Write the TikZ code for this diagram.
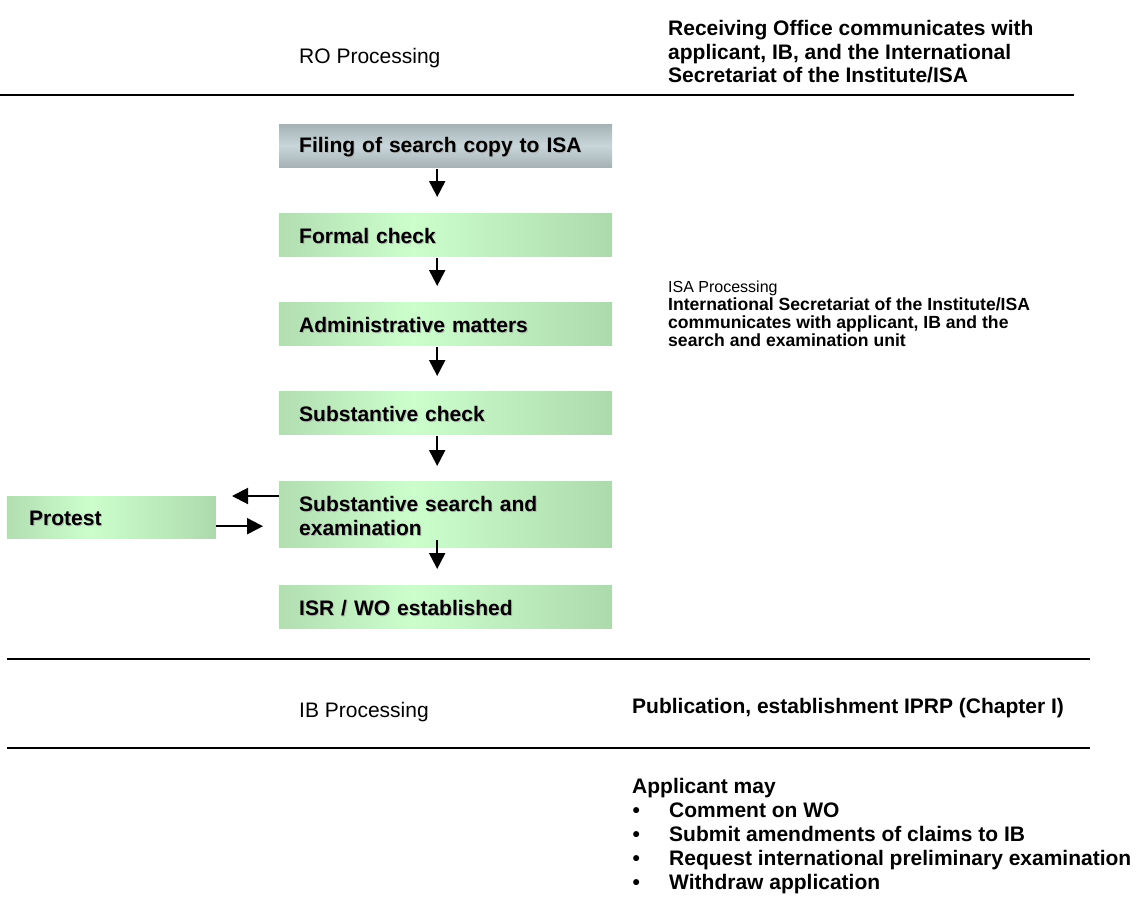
\documentclass[tikz,border=0pt]{standalone}
\usepackage{fontspec}
\setmainfont{Liberation Sans}
\usetikzlibrary{arrows.meta,calc}

\definecolor{greenEdgeL}{HTML}{B2DEB2}
\definecolor{greenPeak}{HTML}{CCFECC}
\definecolor{greenEdgeR}{HTML}{ADDAAD}
\definecolor{grayEdge}{HTML}{A6B2B5}
\definecolor{grayMid}{HTML}{C8D6DB}

% light band a little left of the middle, darker green at both ends
\pgfdeclarehorizontalshading{greenbar}{100bp}{%
  color(0bp)=(greenEdgeL); color(25bp)=(greenEdgeL);
  color(45bp)=(greenPeak); color(75bp)=(greenEdgeR); color(100bp)=(greenEdgeR)}

% bold text with a faint offset shadow, set slightly low in its box
\newcommand\shtext[1]{\raisebox{-2pt}[\height][\depth]{\makebox[0pt][l]{\raisebox{-0.9pt}{\hspace{0.9pt}\textcolor{black!30}{#1}}}#1}}

\tikzset{
  bigtext/.style={font=\fontsize{21}{23.5}\selectfont, inner sep=0pt, align=left},
  stepbox/.style={rectangle, anchor=north west, draw=none, shading=greenbar,
    minimum width=333pt, minimum height=43pt, text width=293pt, inner xsep=20pt,
    inner ysep=0pt, align=left, font=\fontsize{21}{24}\selectfont\bfseries},
  graybox/.style={stepbox, shading=axis, top color=grayEdge, bottom color=grayEdge,
    middle color=grayMid},
  flow/.style={line width=2pt, -{Triangle[width=16pt,length=16pt]}},
  rule/.style={line width=2pt}
}

\begin{document}
\begin{tikzpicture}[x=1pt,y=-1pt]
\useasboundingbox (0,0) rectangle (1141,900);

% ---- RO section header
\node[bigtext, anchor=west] (ro) at (299,58) {RO Processing};
\node[bigtext, anchor=west, font=\fontsize{21}{23.5}\selectfont\bfseries] (rotxt) at (668,52)
  {Receiving Office communicates with\\applicant, IB, and the International\\Secretariat of the Institute/ISA};
\coordinate (r1a) at (0,95);
\coordinate (r1b) at (1074,95);
\draw[rule] (r1a) -- (r1b);

% ---- ISA processing steps
\node[graybox] (fil) at (279,124) {\shtext{Filing of search copy to ISA}};
\node[stepbox] (frm) at (279,213) {\shtext{Formal check}};
\node[stepbox] (adm) at (279,302) {\shtext{Administrative matters}};
\node[stepbox] (chk) at (279,391) {\shtext{Substantive check}};
\node[stepbox, minimum height=66pt] (srch) at (279,481)
  {\shtext{Substantive search and}\\\shtext{examination}};
\node[stepbox] (isr) at (279,585) {\shtext{ISR / WO established}};
\node[stepbox, minimum width=209pt, text width=165pt, inner xsep=22pt,
      minimum height=42pt] (pro) at (7,496) {\shtext{Protest}};

\draw[flow] ([xshift=-8.5pt,yshift=-2pt]fil.south) -- ([xshift=-8.5pt,yshift=16pt]frm.north);
\draw[flow] ([xshift=-8.5pt,yshift=-2pt]frm.south) -- ([xshift=-8.5pt,yshift=16pt]adm.north);
\draw[flow] ([xshift=-8.5pt,yshift=-2pt]adm.south) -- ([xshift=-8.5pt,yshift=15pt]chk.north);
\draw[flow] ([xshift=-8.5pt,yshift=-2pt]chk.south) -- ([xshift=-8.5pt,yshift=15pt]srch.north);
\draw[flow] ([xshift=-8.5pt,yshift=7pt]srch.south) -- ([xshift=-8.5pt,yshift=16pt]isr.north);

\draw[flow] ([yshift=-15pt]srch.north west) -- ([xshift=-47pt,yshift=-15pt]srch.north west);
\draw[flow] ([yshift=-9pt]pro.east) -- ([xshift=-16pt,yshift=-9pt]pro.east -| srch.west);

\node[inner sep=0pt, align=left, anchor=west, font=\fontsize{17.6}{18}\selectfont\bfseries] (isa) at (668,314)
  {{\mdseries\fontsize{16}{18}\selectfont ISA Processing}\\
   International Secretariat of the Institute/ISA\\
   communicates with applicant, IB and the\\search and examination unit};

% ---- IB section
\coordinate (r2a) at (7,659);
\coordinate (r2b) at (1090,659);
\draw[rule] (r2a) -- (r2b);
\node[bigtext, anchor=west] (ib) at (299,712) {IB Processing};
\node[bigtext, anchor=west, font=\fontsize{21}{23.5}\selectfont\bfseries] (pub) at (632,708)
  {Publication, establishment IPRP (Chapter I)};
\coordinate (r3a) at (7,748);
\coordinate (r3b) at (1090,748);
\draw[rule] (r3a) -- (r3b);

% ---- applicant options
\node[bigtext, anchor=north west, font=\fontsize{21}{24}\selectfont\bfseries] (app) at (632,778)
  {Applicant may\\
   \makebox[37pt][l]{\hspace{0.5pt}•}Comment on WO\\
   \makebox[37pt][l]{\hspace{0.5pt}•}Submit amendments of claims to IB\\
   \makebox[37pt][l]{\hspace{0.5pt}•}Request international preliminary examination\\
   \makebox[37pt][l]{\hspace{0.5pt}•}Withdraw application};
\end{tikzpicture}
\end{document}
